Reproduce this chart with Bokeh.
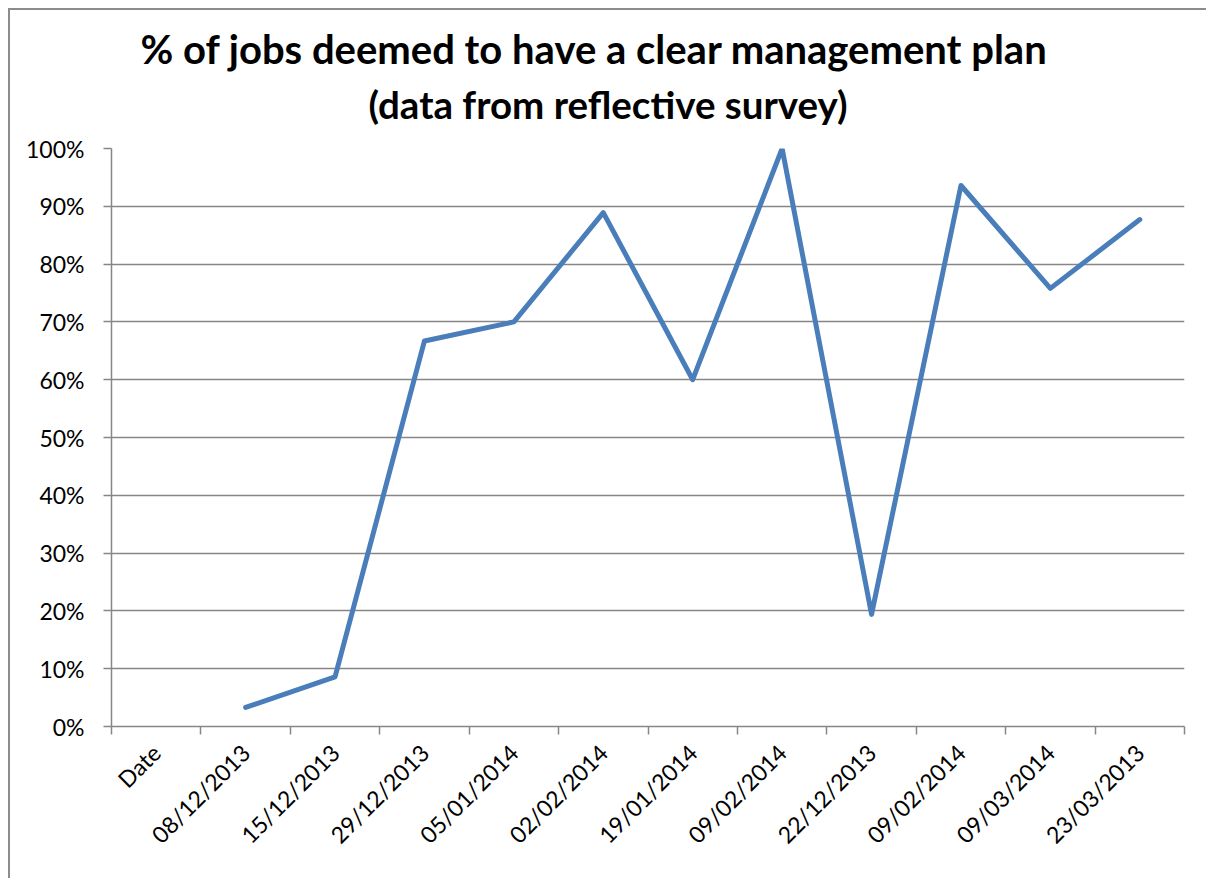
import math
from bokeh.plotting import figure
from bokeh.models import FixedTicker, Range1d, Title, ColumnDataSource
from bokeh.embed import file_html
from bokeh.resources import INLINE

# ---- data ----
categories = ["Date", "08/12/2013", "15/12/2013", "29/12/2013", "05/01/2014",
              "02/02/2014", "19/01/2014", "09/02/2014", "22/12/2013",
              "09/02/2014", "09/03/2014", "23/03/2013"]
values_pct = [float("nan"), 3.3, 8.6, 66.7, 70.0, 88.9, 60.0, 100.0, 19.4,
              93.6, 75.8, 87.7]
y_ticks = [0, 10, 20, 30, 40, 50, 60, 70, 80, 90, 100]
y_tick_labels = [f"{t}%" for t in y_ticks]
title_lines = ["% of jobs deemed to have a clear management plan",
               "(data from reflective survey)"]

FONT = "Lato"
GREY = "#868686"

n = len(categories)
centers = [i + 0.5 for i in range(n)]
edges = [float(i) for i in range(n + 1)]

src = ColumnDataSource(dict(x=centers, y=values_pct))

p = figure(width=1198, height=870, output_backend="svg", toolbar_location=None,
           x_range=Range1d(0, n), y_range=Range1d(0, 100),
           min_border_left=101, min_border_right=24,
           min_border_top=138, min_border_bottom=154,
           title=title_lines[0])
p.styles = {"margin-left": "8px", "margin-top": "8px",
            "border-left": "2px solid #8c8c8c", "border-top": "2px solid #8c8c8c"}
p.outline_line_color = None
p.background_fill_color = "white"
p.border_fill_color = "white"

p.line("x", "y", source=src, line_color="#4A7EBB", line_width=5,
       line_join="round", line_cap="round")

# x axis
xa = p.xaxis[0]
xa.ticker = FixedTicker(ticks=centers, minor_ticks=edges)
xa.major_label_overrides = {c: lab for c, lab in zip(centers, categories)}
xa.major_tick_out = 0
xa.major_tick_in = 0
xa.minor_tick_out = 8
xa.minor_tick_in = 0
xa.minor_tick_line_color = GREY
xa.minor_tick_line_width = 1.5
xa.axis_line_color = GREY
xa.axis_line_width = 1.5
xa.major_label_orientation = math.pi / 4
xa.major_label_text_font = FONT
xa.major_label_text_font_size = "23px"
xa.major_label_text_color = "black"
xa.major_label_standoff = 14

# y axis
ya = p.yaxis[0]
ya.ticker = FixedTicker(ticks=y_ticks)
ya.major_label_overrides = {t: lab for t, lab in zip(y_ticks, y_tick_labels)}
ya.major_tick_out = 8
ya.major_tick_in = 0
ya.major_tick_line_color = GREY
ya.major_tick_line_width = 1.5
ya.minor_tick_line_color = None
ya.axis_line_color = GREY
ya.axis_line_width = 1.5
ya.major_label_text_font = FONT
ya.major_label_text_font_size = "23px"
ya.major_label_text_color = "black"
ya.major_label_standoff = 19

p.xgrid.visible = False
p.ygrid.ticker = FixedTicker(ticks=y_ticks)
p.ygrid.grid_line_color = GREY
p.ygrid.grid_line_width = 1.5

# title: line 1 is the built-in (outer) title, line 2 is stacked nearer the frame
def style_title(t, offset, standoff, size):
    t.align = "left"
    t.offset = offset
    t.standoff = standoff
    t.text_font = FONT
    t.text_font_style = "bold"
    t.text_font_size = size
    t.text_color = "black"

style_title(p.title, 29, -30, "40px")
t2 = Title(text=title_lines[1])
style_title(t2, 257, 43, "38.5px")
p.add_layout(t2, "above")

open("out.html", "w").write(file_html(p, INLINE))
